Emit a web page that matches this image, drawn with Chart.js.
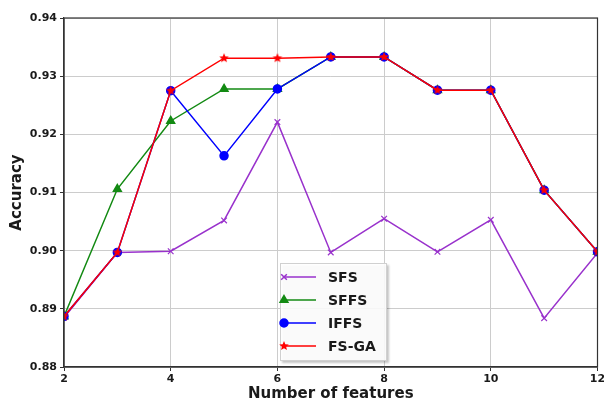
<!DOCTYPE html>
<html>
<head>
<meta charset="utf-8">
<script src="https://cdn.jsdelivr.net/npm/chart.js@4.4.1/dist/chart.umd.min.js"></script>
<style>
  html, body { margin: 0; padding: 0; background: #fff; }
  #wrap { width: 604px; height: 403px; }
</style>
</head>
<body>
<div id="wrap"><canvas id="accChart" width="604" height="403"></canvas></div>
<script>
// data
var features = [2, 3, 4, 5, 6, 7, 8, 9, 10, 11, 12];
var sfs   = [0.8885, 0.8997, 0.8999, 0.9052, 0.9221, 0.8997, 0.9055, 0.8998, 0.9053, 0.8884, 0.8996];
var sffs  = [0.8887, 0.9106, 0.9223, 0.9278, 0.9278, 0.9333, 0.9333, 0.9276, 0.9276, 0.9104, 0.8998];
var iffs  = [0.8887, 0.8997, 0.9275, 0.9163, 0.9278, 0.9333, 0.9333, 0.9276, 0.9276, 0.9104, 0.8998];
var fsga  = [0.8887, 0.8997, 0.9275, 0.9331, 0.9331, 0.9333, 0.9333, 0.9276, 0.9276, 0.9104, 0.8998];
var xTicks = [2, 4, 6, 8, 10, 12];
var yTicks = [0.88, 0.89, 0.90, 0.91, 0.92, 0.93, 0.94];

function toPoints(values) {
    return values.map(function (v, i) { return { x: features[i], y: v }; });
}

// filled star marker like matplotlib '*'
function makeStar(color, r) {
    var c = document.createElement('canvas');
    var s = Math.ceil(r * 2 + 2);
    c.width = s; c.height = s;
    var g = c.getContext('2d');
    g.fillStyle = color;
    g.beginPath();
    for (var i = 0; i < 10; i++) {
        var rad = (i % 2 === 0) ? r : r * 0.45;
        var a = -Math.PI / 2 + i * Math.PI / 5;
        var px = s / 2 + rad * Math.cos(a);
        var py = s / 2 + rad * Math.sin(a);
        if (i === 0) g.moveTo(px, py); else g.lineTo(px, py);
    }
    g.closePath();
    g.fill();
    return c;
}
var starRed = makeStar('#ff0000', 5);

// legend drawn inside the plot, like the matplotlib one
var innerLegend = {
    id: 'innerLegend',
    afterDraw: function (chart) {
        var ctx = chart.ctx;
        var area = chart.chartArea;
        var x0 = 280, y0 = 263, w = 107, h = 98;
        ctx.save();
        ctx.shadowColor = 'rgba(0,0,0,0.25)';
        ctx.shadowOffsetX = 2; ctx.shadowOffsetY = 2; ctx.shadowBlur = 2;
        ctx.fillStyle = 'rgba(255,255,255,0.9)';
        ctx.fillRect(x0, y0, w, h);
        ctx.shadowColor = 'transparent';
        ctx.strokeStyle = '#d0d0d0';
        ctx.lineWidth = 1;
        ctx.strokeRect(x0 + 0.5, y0 + 0.5, w - 1, h - 1);
        ctx.font = 'bold 14px "DejaVu Sans"';
        ctx.textBaseline = 'middle';
        // legend rows in the same order as the datasets array
        chart.data.datasets.forEach(function (ds, i) {
            var yy = y0 + 14 + i * 23;
            ctx.strokeStyle = ds.borderColor;
            ctx.lineWidth = 1.5;
            ctx.beginPath();
            ctx.moveTo(x0 + 4, yy);
            ctx.lineTo(x0 + 36, yy);
            ctx.stroke();
            ctx.fillStyle = ds.backgroundColor;
            Chart.helpers.drawPoint(ctx, {
                pointStyle: ds.pointStyle,
                radius: ds.pointRadius,
                borderWidth: ds.pointBorderWidth || 1,
                rotation: 0
            }, x0 + 4, yy);
            ctx.fillStyle = '#1a1a1a';
            ctx.fillText(ds.label, x0 + 48, yy + 1);
        });
        // frame around plot
        ctx.strokeStyle = '#333';
        ctx.lineWidth = 1.2;
        ctx.strokeRect(area.left, area.top, area.right - area.left, area.bottom - area.top);
        ctx.restore();
    }
};

function createChart() {
    var ctx = document.getElementById('accChart');
    new Chart(ctx, {
        type: 'line',
        data: {
            datasets: [
                {
                    label: 'SFS',
                    data: toPoints(sfs),
                    order: 4,
                    borderColor: '#9932cc',
                    backgroundColor: '#9932cc',
                    pointStyle: 'crossRot',
                    pointRadius: 4,
                    pointBorderWidth: 1.2,
                    borderWidth: 1.5
                },
                {
                    label: 'SFFS',
                    data: toPoints(sffs),
                    order: 3,
                    borderColor: '#138a13',
                    backgroundColor: '#138a13',
                    pointStyle: 'triangle',
                    pointRadius: 4.5,
                    borderWidth: 1.5
                },
                {
                    label: 'IFFS',
                    data: toPoints(iffs),
                    order: 2,
                    borderColor: '#0000ff',
                    backgroundColor: '#0000ff',
                    pointStyle: 'circle',
                    pointRadius: 4,
                    borderWidth: 1.5
                },
                {
                    label: 'FS-GA',
                    data: toPoints(fsga),
                    order: 1,
                    borderColor: '#ff0000',
                    backgroundColor: '#ff0000',
                    pointStyle: starRed,
                    pointRadius: 5,
                    borderWidth: 1.5
                }
            ]
        },
        options: {
            responsive: false,
            animation: false,
            layout: { padding: { top: 18, right: -3, left: 8, bottom: 0 } },
            plugins: {
                legend: { display: false },
                tooltip: { enabled: false }
            },
            scales: {
                x: {
                    type: 'linear',
                    min: 2,
                    max: 12,
                    afterFit: function (scale) {
                        scale.height = 36;
                        // let the "12" label run past the edge like the original
                        scale.paddingRight = 0;
                        scale.paddingLeft = 0;
                    },
                    afterBuildTicks: function (scale) {
                        scale.ticks = xTicks.map(function (v) { return { value: v }; });
                    },
                    ticks: {
                        color: '#1a1a1a',
                        font: { family: 'DejaVu Sans', size: 11, weight: 'bold' },
                        padding: 2,
                        maxRotation: 0
                    },
                    grid: { color: '#cccccc', lineWidth: 1, tickLength: 4, tickColor: '#333' },
                    border: { color: '#333', width: 1.2 },
                    title: {
                        display: true,
                        text: 'Number of features',
                        color: '#1a1a1a',
                        font: { family: 'DejaVu Sans', size: 15, weight: 'bold' },
                        padding: { top: 0, bottom: 0 }
                    }
                },
                y: {
                    min: 0.88,
                    max: 0.94,
                    afterFit: function (scale) { scale.width = 56; },
                    afterBuildTicks: function (scale) {
                        scale.ticks = yTicks.map(function (v) { return { value: v }; });
                    },
                    ticks: {
                        color: '#1a1a1a',
                        font: { family: 'DejaVu Sans', size: 11, weight: 'bold' },
                        padding: 3,
                        callback: function (v) { return Number(v).toFixed(2); }
                    },
                    grid: { color: '#cccccc', lineWidth: 1, tickLength: 4, tickColor: '#333' },
                    border: { color: '#333', width: 1.2 },
                    title: {
                        display: true,
                        text: 'Accuracy',
                        color: '#1a1a1a',
                        font: { family: 'DejaVu Sans', size: 15, weight: 'bold' },
                        padding: { top: 0, bottom: 0 }
                    }
                }
            }
        },
        plugins: [innerLegend]
    });
}

createChart();
</script>
</body>
</html>
